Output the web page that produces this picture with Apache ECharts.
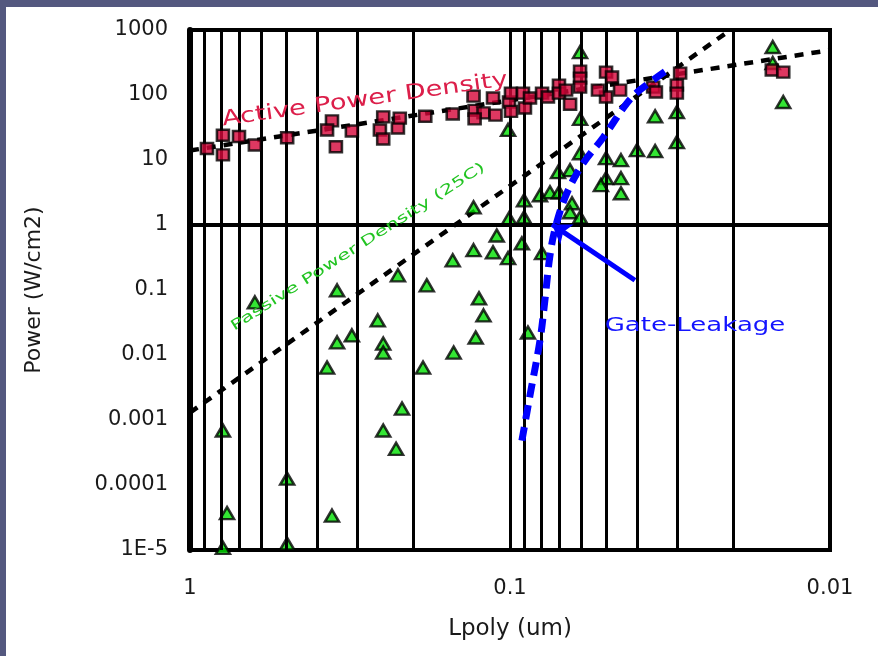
<!DOCTYPE html>
<html><head><meta charset="utf-8">
<script src="https://cdn.jsdelivr.net/npm/echarts@6/dist/echarts.min.js"></script>
<style>
html,body{margin:0;padding:0;width:878px;height:656px;overflow:hidden;background:#54587f;}
#chart{position:absolute;left:6px;top:7px;width:872px;height:649px;background:#ffffff;}
</style></head><body><div id="chart"></div>
<script>
// ---- tick labels ----
const yTickLabels = ['1E-5','0.0001','0.001','0.01','0.1','1','10','100','1000'];
const xTickLabels = ['0.01','0.1','1'];
// vertical grid lines (minor log positions) and the reference horizontal line
const gridLpoly = [0.9,0.8,0.7,0.6,0.5,0.4,0.3,0.2,0.1,0.09,0.08,0.07,0.06,0.05,0.04,0.03,0.02];
const referencePower = [1];

// ---- Active Power Density (red squares) ----
const activeLpoly = [0.885,0.789,0.789,0.703,0.627,0.497,0.360,0.373,0.350,0.312,0.255,0.249,0.249,0.224,0.221,0.184,0.151,0.130,0.113,0.129,0.121,0.111,0.129,0.1007,0.0993,0.0993,0.0911,0.0898,0.0866,0.0794,0.0761,0.0703,0.0703,0.0649,0.0668,0.0604,0.0604,0.0604,0.0501,0.0453,0.0501,0.0531,0.0480,0.0357,0.0350,0.0301,0.0301,0.0294,0.0152,0.0140];
const activePower = [15,12,24,23,17,22,40,29,16,28,29,21,46,31,44,47,51,96,90,58,53,49,43,78,56,107,107,63,90,107,93,142,107,72,119,233,182,132,225,119,93,119,189,132,111,142,107,217,242,225];

// ---- Passive Power Density 25C (green triangles) ----
const passiveLpoly = [0.130,0.1014,0.110,0.1007,0.627,0.347,0.347,0.312,0.373,0.259,0.249,0.249,0.224,0.151,0.130,0.113,0.1014,0.182,0.187,0.125,0.121,0.128,0.150,0.789,0.497,0.766,0.789,0.497,0.360,0.2175,0.249,0.227,0.0604,0.0604,0.0352,0.0301,0.0301,0.0401,0.0352,0.0501,0.0450,0.0604,0.0649,0.0708,0.0501,0.0450,0.0520,0.0450,0.0640,0.0649,0.0604,0.0806,0.075,0.0703,0.0904,0.0904,0.0151,0.0151,0.0140,0.0918,0.0794,0.0879];
const passivePower = [1.87,29,0.69,1.27,0.0644,0.0986,0.0156,0.020,0.0064,0.034,0.015,0.0109,0.168,0.286,0.41,0.38,0.31,0.118,0.0064,0.0743,0.0406,0.0186,0.0109,0.00069,0.000125,0.000037,0.0000108,0.0000125,0.0000337,0.0015,0.00069,0.00036,458,43,47,54.5,18.8,14.2,13.7,10.7,9.93,12.7,6.97,6.49,5.25,5.25,4.10,3.08,2.16,1.57,1.31,2.87,3.19,3.19,2.40,1.31,547,311,78,0.52,0.37,0.0222];

// ---- trend lines ----
const activeFitLpoly = [1, 0.01];
const activeFitPower = [14, 490];
const passiveFitLpoly = [1, 0.0205];
const passiveFitPower = [0.0013, 1000];

// ---- Gate leakage curve and its pointer ----
const gateLpoly = [0.0918,0.0866,0.0806,0.0778,0.075,0.0718,0.0664,0.0591,0.0512,0.0431,0.0393,0.0316];
const gatePower = [0.00048,0.0024,0.0167,0.069,0.34,1.0,3.1,8.9,22,75,119,260];
const gateArrowLpoly = [0.0407, 0.0739];
const gateArrowPower = [0.141, 1.02];

const pairs = (xs, ys) => xs.map((x, i) => [x, ys[i]]);
const FONT = "'DejaVu Sans', 'Liberation Sans', Arial, sans-serif";

const chart = echarts.init(document.getElementById('chart'), null, {renderer: 'canvas'});
chart.setOption({
  animation: false,
  backgroundColor: '#ffffff',
  grid: {left: 184, top: 23, width: 640, height: 520, show: true, borderColor: '#000', borderWidth: 4, backgroundColor: 'transparent', containLabel: false},
  xAxis: {
    type: 'log', logBase: 10, min: 0.01, max: 1, inverse: true,
    name: 'Lpoly (um)', nameLocation: 'middle', nameGap: 68,
    nameTextStyle: {fontFamily: FONT, fontSize: 23, color: '#1a1a1a'},
    axisLine: {show: true, lineStyle: {color: '#000', width: 3}},
    axisTick: {show: false},
    splitLine: {show: false},
    axisLabel: {
      margin: 28, fontFamily: FONT, fontSize: 21, color: '#1a1a1a',
      formatter: v => xTickLabels[Math.round(Math.log10(v)) + 2]
    }
  },
  yAxis: {
    type: 'log', logBase: 10, min: 0.00001, max: 1000,
    name: 'Power (W/cm2)', nameLocation: 'middle', nameGap: 145,
    nameTextStyle: {fontFamily: FONT, fontSize: 22, color: '#1a1a1a'},
    axisLine: {show: true, lineStyle: {color: '#000', width: 6}},
    axisTick: {show: false},
    splitLine: {show: false},
    axisLabel: {
      margin: 22, fontFamily: FONT, fontSize: 21, color: '#1a1a1a',
      formatter: v => yTickLabels[Math.round(Math.log10(v)) + 5]
    }
  },
  series: [
    {
      name: 'grid lines', type: 'line', data: [], z: 1, silent: true,
      markLine: {
        silent: true, symbol: ['none', 'none'], label: {show: false},
        lineStyle: {color: '#000', width: 3, type: 'solid'},
        emphasis: {disabled: true},
        data: gridLpoly.map(v => ({xAxis: v}))
          .concat(referencePower.map(v => ({yAxis: v, lineStyle: {color: '#000', width: 4, type: 'solid'}})))
      }
    },
    {
      name: 'Active fit', type: 'line', z: 2, silent: true, symbol: 'none',
      data: pairs(activeFitLpoly, activeFitPower),
      lineStyle: {color: '#000', width: 4.5, type: [9, 8]}
    },
    {
      name: 'Passive fit', type: 'line', z: 2, silent: true, symbol: 'none',
      data: pairs(passiveFitLpoly, passiveFitPower),
      lineStyle: {color: '#000', width: 4.5, type: [9, 8]}
    },
    {
      name: 'Passive Power Density (25C)', type: 'scatter', z: 4,
      data: pairs(passiveLpoly, passivePower),
      symbol: 'triangle', symbolSize: [14, 12],
      itemStyle: {color: '#00e000', borderColor: '#000', borderWidth: 2.5}
    },
    {
      name: 'Active Power Density', type: 'scatter', z: 5,
      data: pairs(activeLpoly, activePower),
      symbol: 'rect', symbolSize: [12, 11],
      itemStyle: {color: '#d6063a', borderColor: '#000', borderWidth: 2.5}
    },
    {
      name: 'Gate-Leakage', type: 'line', z: 6, silent: true, symbol: 'none', smooth: 0.35,
      data: pairs(gateLpoly, gatePower),
      lineStyle: {color: '#0000ff', width: 7, type: [14, 8]},
      markLine: {
        silent: true, symbol: ['none', 'arrow'], symbolSize: 18, label: {show: false},
        lineStyle: {color: '#0000ff', width: 5, type: 'solid'},
        data: [[
          {coord: [gateArrowLpoly[0], gateArrowPower[0]]},
          {coord: [gateArrowLpoly[1], gateArrowPower[1]]}
        ]]
      }
    }
  ],
  graphic: [
    {type: 'text', x: 359, y: 93, rotation: 0.14, scaleX: 1.3, silent: true, z: 10,
     style: {text: 'Active Power Density', fill: '#dc1f4a', font: "21px " + FONT, textAlign: 'center', textVerticalAlign: 'middle', align: 'center', verticalAlign: 'middle'}},
    {type: 'text', x: 352, y: 240, rotation: 0.57, scaleX: 1.5, silent: true, z: 10,
     style: {text: 'Passive Power Density (25C)', fill: '#22c422', font: "14px " + FONT, textAlign: 'center', textVerticalAlign: 'middle', align: 'center', verticalAlign: 'middle'}},
    {type: 'text', x: 689, y: 319, scaleX: 1.3, silent: true, z: 10,
     style: {text: 'Gate-Leakage', fill: '#1414ff', font: "20px " + FONT, textAlign: 'center', textVerticalAlign: 'middle', align: 'center', verticalAlign: 'middle'}}
  ]
});
</script></body></html>
